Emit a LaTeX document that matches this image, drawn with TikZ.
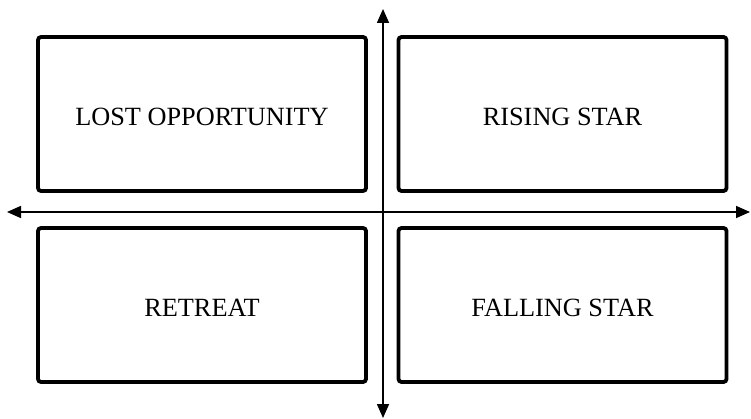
\documentclass[tikz,border=0pt]{standalone}
\usepackage{fontspec}
\setmainfont{Liberation Serif}
\usepackage{tikz}
\usetikzlibrary{arrows.meta}

\tikzset{
  quadbox/.style={draw=black,line width=3.8pt,rounded corners=3pt,
    minimum width=328pt,minimum height=154pt,inner sep=0pt,
    text height=23pt,text depth=0pt,
    font=\fontsize{26.3}{30}\selectfont},
  axisline/.style={line width=1.6pt,-{Triangle[length=14pt,width=12pt]}}
}

\begin{document}
\begin{tikzpicture}[x=1pt,y=-1pt]
    \useasboundingbox (0,0) rectangle (751,419);
    \coordinate (origin) at (383,212);
    % the four quadrants
    \node[quadbox] (lost) at (202,114) {LOST OPPORTUNITY};
    \node[quadbox] (rising) at (562.5,114) {RISING STAR};
    \node[quadbox] (retreat) at (202,305) {RETREAT};
    \node[quadbox] (falling) at (562.5,305) {FALLING STAR};
    % axes
    \coordinate (west) at (7,212);
    \coordinate (east) at (750,212);
    \coordinate (north) at (383,9);
    \coordinate (south) at (383,418);
    \draw[axisline] (origin) -- (west);
    \draw[axisline] (origin) -- (east);
    \draw[axisline] (origin) -- (north);
    \draw[axisline] (origin) -- (south);
  \end{tikzpicture}
\end{document}
